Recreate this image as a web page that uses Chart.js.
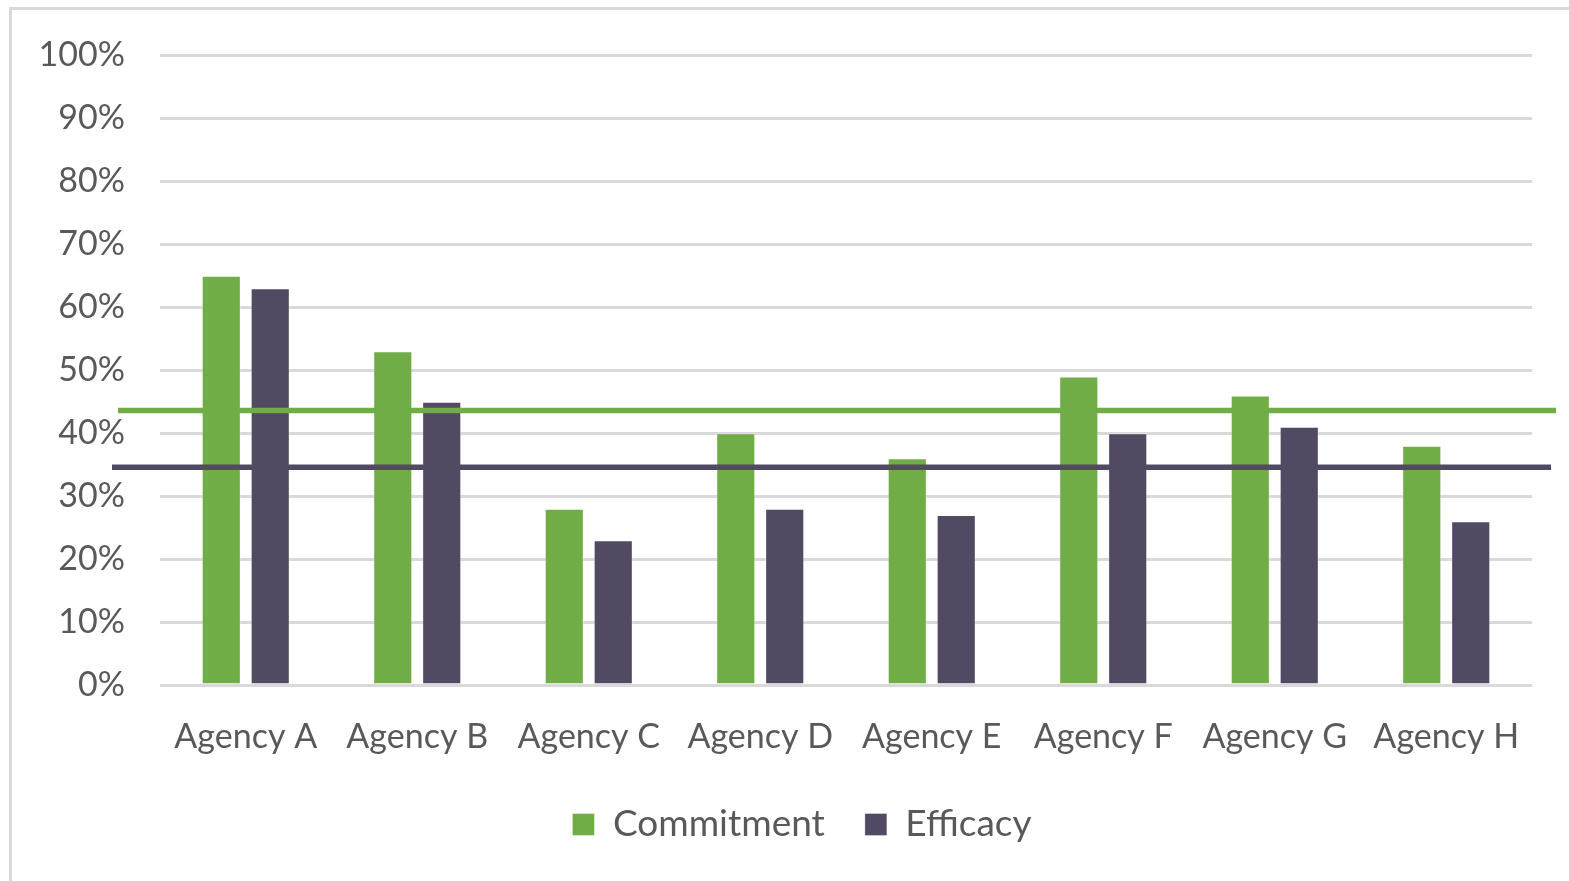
<!DOCTYPE html>
<html>
<head>
<meta charset="utf-8">
<script src="https://cdn.jsdelivr.net/npm/chart.js@4/dist/chart.umd.min.js"></script>
<style>
  html, body { margin: 0; padding: 0; background: #fff; overflow: hidden; }
  #frame { position: absolute; left: 9px; top: 7px; width: 1700px; height: 1000px; border: 3px solid #d9d9d9; box-sizing: border-box; }
  #wrap { position: absolute; left: 0; top: 0; width: 1569px; height: 881px; }
</style>
</head>
<body>
<div id="frame"></div>
<div id="wrap"><canvas id="c" width="1569" height="881"></canvas></div>
<script>
const categories = ['Agency A', 'Agency B', 'Agency C', 'Agency D', 'Agency E', 'Agency F', 'Agency G', 'Agency H'];
const commitment = [65, 53, 28, 40, 36, 49, 46, 38];
const efficacy = [63, 45, 23, 28, 27, 40, 41, 26];
const commitmentRef = 43.6;
const efficacyRef = 34.6;
const yTicks = [0, 10, 20, 30, 40, 50, 60, 70, 80, 90, 100];

const GREEN = '#70AD47';
const PURPLE = '#514A62';
const TEXT = '#595959';
const FONT = 'Lato, "Open Sans", sans-serif';

const refLines = {
  id: 'refLines',
  afterDatasetsDraw(chart, args, opts) {
    const y = chart.scales.y;
    const area = chart.chartArea;
    const ctx = chart.ctx;
    ctx.save();
    opts.lines.forEach(l => {
      const py = y.getPixelForValue(l.value);
      ctx.strokeStyle = l.color;
      ctx.lineWidth = 5.5;
      ctx.beginPath();
      ctx.moveTo(area.left - l.extendLeft, py);
      ctx.lineTo(area.right + l.extendRight, py);
      ctx.stroke();
    });
    ctx.restore();
  }
};

const legendShift = {
  id: 'legendShift',
  afterLayout(chart, args, opts) {
    if (chart.legend) {
      chart.legend.left += opts.dx;
      chart.legend.right += opts.dx;
    }
  }
};

new Chart(document.getElementById('c'), {
  type: 'bar',
  data: {
    labels: categories,
    datasets: [
      { label: 'Commitment', data: commitment, backgroundColor: GREEN, borderColor: 'rgba(255,255,255,0.35)', borderWidth: 1, borderSkipped: 'bottom' },
      { label: 'Efficacy', data: efficacy, backgroundColor: PURPLE, borderColor: 'rgba(255,255,255,0.35)', borderWidth: 1, borderSkipped: 'bottom' }
    ]
  },
  plugins: [refLines, legendShift],
  options: {
    responsive: false,
    animation: false,
    devicePixelRatio: 1,
    categoryPercentage: 0.571,
    barPercentage: 0.8,
    layout: { padding: { left: 0, right: 37, top: 45, bottom: 28 } },
    plugins: {
      legend: {
        position: 'bottom',
        labels: {
          color: TEXT,
          font: { family: FONT, size: 37 },
          boxWidth: 22,
          boxHeight: 22,
          padding: 40,
          useBorderRadius: false
        }
      },
      legendShift: { dx: 36 },
      tooltip: { enabled: false },
      refLines: {
        lines: [
          { value: commitmentRef, color: GREEN, extendLeft: 42, extendRight: 24 },
          { value: efficacyRef, color: PURPLE, extendLeft: 48, extendRight: 19 }
        ]
      }
    },
    scales: {
      x: {
        grid: { display: false },
        border: { display: false },
        ticks: { color: TEXT, font: { family: FONT, size: 34 }, padding: 24, maxRotation: 0 },
        afterFit(s) { s.height = 81; }
      },
      y: {
        min: 0,
        max: 100,
        afterBuildTicks(s) { s.ticks = yTicks.map(v => ({ value: v })); },
        grid: { color: '#d9d9d9', lineWidth: 3, drawTicks: false },
        border: { display: false },
        ticks: { color: TEXT, font: { family: FONT, size: 34 }, padding: 35, callback: v => v + '%' },
        afterFit(s) { s.width = 160; }
      }
    }
  }
});
</script>
</body>
</html>
